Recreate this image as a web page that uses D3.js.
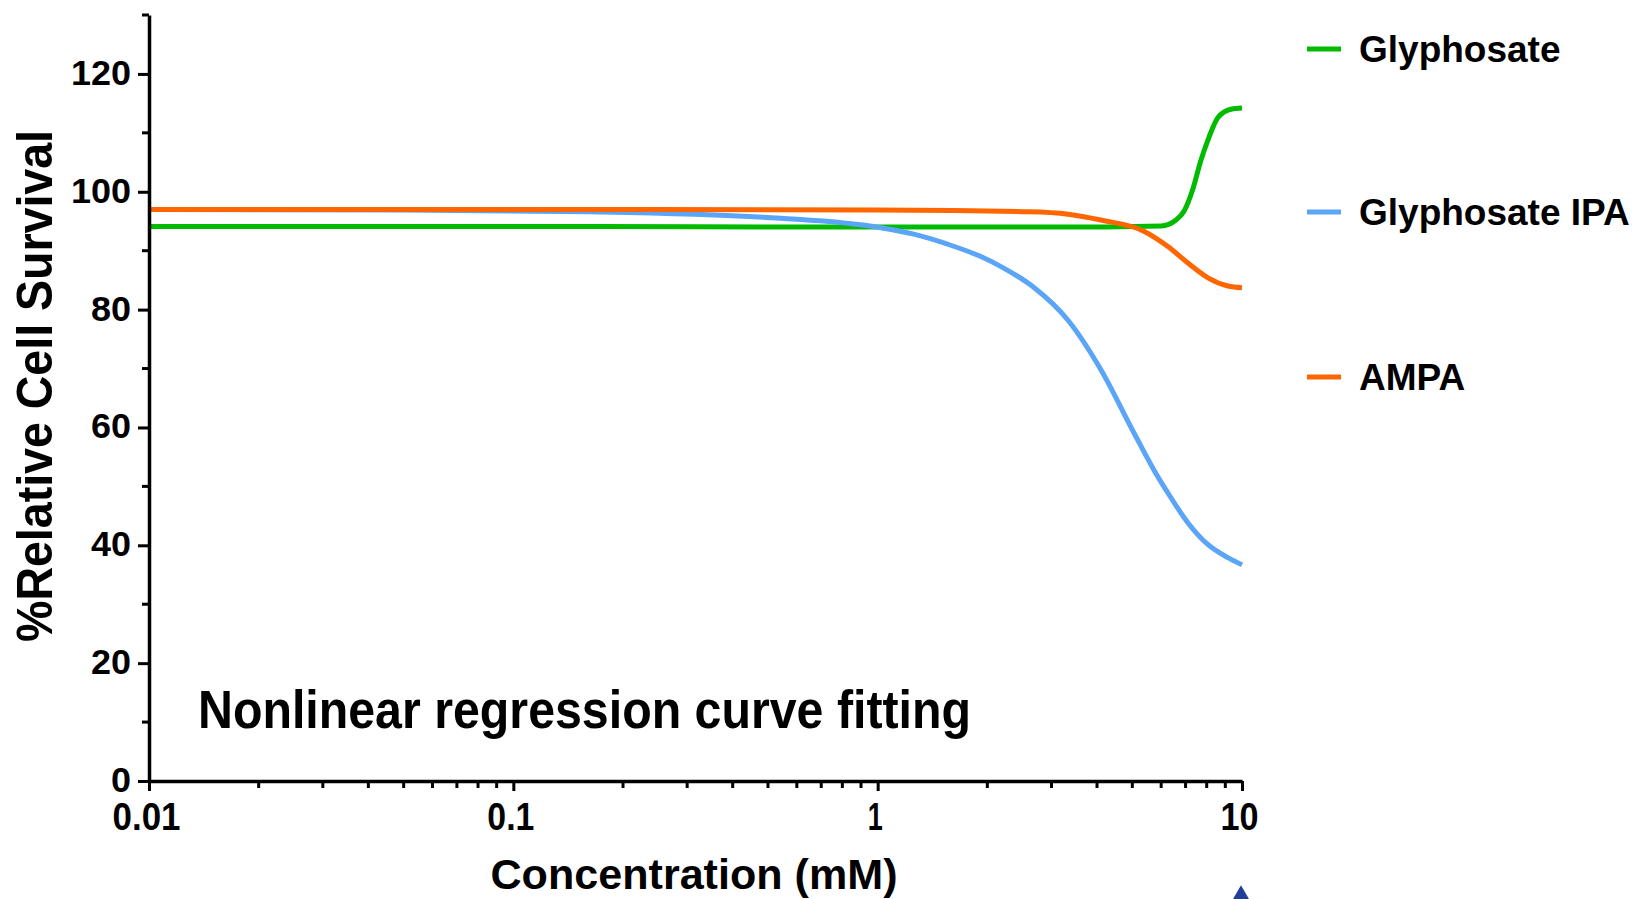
<!DOCTYPE html>
<html><head><meta charset="utf-8">
<script src="https://cdn.jsdelivr.net/npm/d3@7"></script>
<style>body{margin:0;background:#fff} svg{display:block}</style>
</head><body><svg id="c" width="1637" height="899"></svg>
<script>
// ---- data ----
const seriesNames = ["Glyphosate", "Glyphosate IPA", "AMPA"];
const glyConc = [0.01, 0.1, 1, 3, 6.0, 6.59, 6.93, 7.35, 7.71, 8.11, 8.59, 9.33, 10];
const glyVal  = [94.1, 94.1, 94.0, 94.0, 94.2, 95.2, 96.7, 100.7, 105.3, 109.2, 112.6, 114.0, 114.2];
const ipaConc = [0.01, 0.05, 0.163, 0.542, 1.02, 1.256, 1.556, 1.92, 2.18, 2.68, 3.33, 4.10, 5.05, 5.73, 6.26, 7.11, 8.07, 9.15, 10];
const ipaVal  = [97.0, 96.9, 96.6, 95.5, 93.9, 92.8, 91.1, 89.0, 87.3, 83.8, 78.2, 69.8, 59.1, 52.8, 48.9, 43.8, 40.1, 37.9, 36.7];
const ampaConc = [0.01, 0.1, 1, 2.6, 3.33, 4.10, 5.38, 6.26, 7.11, 8.07, 9.15, 10];
const ampaVal  = [97.0, 97.0, 96.9, 96.6, 96.2, 95.2, 93.3, 90.7, 87.9, 85.4, 84.0, 83.7];
const xMajorTicks = [0.01, 0.1, 1, 10];
const xTickLabels = ["0.01", "0.1", "1", "10"];
const yMajorTicks = [0, 20, 40, 60, 80, 100, 120];
const yMinorTicks = [10, 30, 50, 70, 90, 110, 130];
const colors = ["#00bb00", "#5aa5f7", "#ff6600"];

const svg = d3.select("#c");
const x = d3.scaleLog().domain([0.01, 10]).range([149, 1242]);
const y = d3.scaleLinear().domain([0, 130]).range([781, 15]);

const bold = "'Liberation Sans', Arial, sans-serif";
const narrow = "'Liberation Sans Narrow', 'Liberation Sans', Arial, sans-serif";

// x minor ticks
const xMinor = [];
[0.01, 0.1, 1].forEach(d => { for (let k = 2; k <= 9; k++) xMinor.push(d * k); });

// curves
const series = [
  glyConc.map((c, i) => [c, glyVal[i]]),
  ipaConc.map((c, i) => [c, ipaVal[i]]),
  ampaConc.map((c, i) => [c, ampaVal[i]])
];
const line = d3.line().x(d => x(d[0])).y(d => y(d[1])).curve(d3.curveMonotoneX);
[0, 1, 2].forEach(i => {
  svg.append("path").datum(series[i]).attr("d", line)
    .attr("fill", "none").attr("stroke", colors[i]).attr("stroke-width", 5)
    .attr("stroke-linecap", "butt");
});

// Y axis
const yAxis = svg.append("g").attr("transform", "translate(149,0)")
  .call(d3.axisLeft(y).tickValues(yMajorTicks).tickSize(11).tickSizeOuter(0).tickPadding(7).tickFormat(d3.format("d")));
yAxis.select(".domain").attr("stroke", "#000").attr("stroke-width", 3.5);
yAxis.selectAll(".tick line").attr("stroke", "#000").attr("stroke-width", 3);
yAxis.selectAll(".tick text").attr("font-family", bold).attr("font-weight", "bold")
  .attr("font-size", 35).attr("fill", "#000").attr("dy", "0.3em")
  .attr("textLength", d => String(d).length * 20).attr("lengthAdjust", "spacingAndGlyphs");
svg.append("g").selectAll("line").data(yMinorTicks).join("line")
  .attr("x1", 149).attr("x2", 142).attr("y1", d => y(d)).attr("y2", d => y(d))
  .attr("stroke", "#000").attr("stroke-width", 3);

// X axis
const xAxis = svg.append("g").attr("transform", "translate(0,781)")
  .call(d3.axisBottom(x).tickValues(xMajorTicks).tickSize(10).tickSizeOuter(0)
    .tickFormat((d, i) => xTickLabels[i]));
xAxis.select(".domain").attr("stroke", "#000").attr("stroke-width", 3.5);
xAxis.selectAll(".tick line").attr("stroke", "#000").attr("stroke-width", 3);
const xLabW = {"0.01": 68, "0.1": 47, "1": 15, "10": 38};
xAxis.selectAll(".tick text").attr("font-family", narrow).attr("font-weight", "bold")
  .attr("font-size", 39).attr("fill", "#000").attr("y", 49).attr("dy", 0).attr("dx", -3)
  .attr("textLength", (d, i) => xLabW[xTickLabels[i]]).attr("lengthAdjust", "spacingAndGlyphs");
svg.append("g").selectAll("line").data(xMinor).join("line")
  .attr("x1", d => x(d)).attr("x2", d => x(d)).attr("y1", 781).attr("y2", 788)
  .attr("stroke", "#000").attr("stroke-width", 3);

// axis titles
svg.append("text").attr("transform", "translate(52,386) rotate(-90)")
  .attr("text-anchor", "middle").attr("font-family", narrow).attr("font-weight", "bold")
  .attr("font-size", 50).attr("textLength", 512).attr("lengthAdjust", "spacingAndGlyphs")
  .text("%Relative Cell Survival");
svg.append("text").attr("x", 694).attr("y", 889)
  .attr("text-anchor", "middle").attr("font-family", narrow).attr("font-weight", "bold")
  .attr("font-size", 43).attr("textLength", 407).attr("lengthAdjust", "spacingAndGlyphs")
  .text("Concentration (mM)");

// annotation
svg.append("text").attr("x", 198).attr("y", 728)
  .attr("font-family", narrow).attr("font-weight", "bold")
  .attr("font-size", 54).attr("textLength", 773).attr("lengthAdjust", "spacingAndGlyphs")
  .text("Nonlinear regression curve fitting");

// legend
const legY = [49, 212, 377];
const leg = svg.append("g");
seriesNames.forEach((name, i) => {
  leg.append("line").attr("x1", 1307).attr("x2", 1341).attr("y1", legY[i]).attr("y2", legY[i])
    .attr("stroke", colors[i]).attr("stroke-width", 5);
  leg.append("text").attr("x", 1359).attr("y", legY[i] + 13)
    .attr("font-family", bold).attr("font-weight", "bold").attr("font-size", 37)
    .attr("fill", "#000").text(name);
});

// small marker cut at bottom edge
svg.append("path").attr("d", d3.symbol(d3.symbolDiamond, 500)())
  .attr("transform", "translate(1241,906)").attr("fill", "#22409a");
</script></body></html>
